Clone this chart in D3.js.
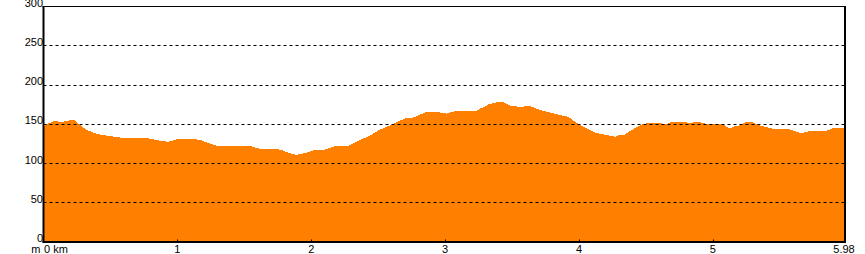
<!DOCTYPE html>
<html>
<head>
<meta charset="utf-8">
<script src="https://cdn.jsdelivr.net/npm/d3@7"></script>
<style>
  body { margin: 0; background: #fff; }
  text { font-family: "Liberation Sans", Arial, sans-serif; font-size: 11px; fill: #000; }
</style>
</head>
<body>
<div id="chart-area"></div>
<script>
const width = 865, height = 254;
const margin = {top: 6, right: 21, bottom: 12.5, left: 43.5};

// distance along the route (km) and elevation (m)
const dist = [0.00, 0.02, 0.09, 0.12, 0.16, 0.21, 0.24, 0.27, 0.31, 0.35, 0.40, 0.43, 0.48, 0.55, 0.62, 0.65, 0.77, 0.82, 0.87, 0.93, 0.97,
  1.01, 1.09, 1.17, 1.22, 1.27, 1.32, 1.37, 1.54, 1.58, 1.62, 1.71, 1.78, 1.80, 1.85, 1.89, 1.92, 1.97,
  2.03, 2.10, 2.15, 2.18, 2.28, 2.31, 2.36, 2.41, 2.46, 2.51, 2.56, 2.61, 2.66, 2.71, 2.77, 2.81, 2.86, 2.94,
  3.01, 3.07, 3.15, 3.20, 3.24, 3.26, 3.30, 3.33, 3.37, 3.41, 3.45, 3.48, 3.53, 3.57, 3.62, 3.66, 3.71, 3.77, 3.82, 3.87, 3.92, 3.94, 3.98,
  4.02, 4.07, 4.12, 4.17, 4.22, 4.27, 4.31, 4.33, 4.37, 4.42, 4.48, 4.53, 4.59, 4.66, 4.69, 4.78, 4.83, 4.89, 4.93, 4.96,
  5.08, 5.10, 5.13, 5.16, 5.20, 5.25, 5.29, 5.33, 5.36, 5.40, 5.45, 5.55, 5.59, 5.64, 5.67, 5.72, 5.77, 5.85, 5.90, 5.96, 5.98];
const elev = [146.5, 149.6, 153.8, 152, 153, 155, 153.8, 148.7, 143.6, 140.2, 137.2, 136, 134.7, 133, 131.3, 132.1, 132.1, 130, 128.3, 127, 128.7,
  130.9, 130.9, 129.6, 126.1, 123.2, 121, 121.9, 121.9, 119.8, 118, 118, 116.8, 114.7, 112.1, 110.4, 111.3, 113.4,
  116.8, 116.8, 119.8, 121.9, 121.9, 124.9, 129.2, 132.5, 137.2, 142.3, 145.8, 149.6, 153.8, 157.3, 158.1, 161.5, 164.9, 164.9,
  163, 165.7, 166.6, 165.7, 167, 169.2, 172.1, 175.1, 176.4, 178.5, 176.4, 173.4, 172.1, 170.8, 173.4, 170.8, 167.5, 164.9, 162.8, 160.6, 158.9, 156.4, 151.7,
  147.5, 143.2, 138.9, 136.9, 135.1, 133.4, 136, 135.1, 139.4, 144.5, 149.6, 151.3, 150.9, 149.6, 152.6, 152.6, 150.9, 152.6, 150.9, 149.6,
  149.6, 145.8, 144.5, 146.6, 147.8, 152.6, 152.1, 149.6, 147.5, 145.8, 143.6, 143.6, 142, 138.9, 138.1, 140.7, 141.1, 141.1, 144.5, 145, 145];

const yTicks = [0, 50, 100, 150, 200, 250, 300];
const xTicks = [1, 2, 3, 4, 5];
const xMax = 5.98;

const svg = d3.select("#chart-area").append("svg")
    .attr("width", width)
    .attr("height", height);

const x = d3.scaleLinear().domain([0, xMax]).range([margin.left, width - margin.right]);
const y = d3.scaleLinear().domain([0, 300]).range([height - margin.bottom, margin.top]);

const data = dist.map((d, i) => ({d: d, e: elev[i]}));

// profile
svg.append("path")
    .datum(data)
    .attr("fill", "#ff8000")
    .attr("shape-rendering", "crispEdges")
    .attr("d", d3.area().x(p => x(p.d)).y0(y(0)).y1(p => y(p.e)));

// dashed grid
svg.append("g")
    .selectAll("line")
    .data(yTicks.filter(t => t > 0 && t < 300))
    .enter().append("line")
    .attr("x1", x(0)).attr("x2", x(xMax))
    .attr("y1", t => Math.round(y(t)) + 0.5).attr("y2", t => Math.round(y(t)) + 0.5)
    .attr("stroke", "#000")
    .attr("stroke-dasharray", "3,3");

// frame
svg.append("line").attr("x1", x(0) - 1).attr("x2", x(xMax) + 1.5)
    .attr("y1", margin.top + 0.5).attr("y2", margin.top + 0.5).attr("stroke", "#000");
svg.append("line").attr("x1", x(0)).attr("x2", x(0))
    .attr("y1", margin.top).attr("y2", y(0) + 1).attr("stroke", "#000").attr("stroke-width", 2);
svg.append("line").attr("x1", x(xMax) + 1).attr("x2", x(xMax) + 1)
    .attr("y1", margin.top).attr("y2", y(0) + 1).attr("stroke", "#000").attr("stroke-width", 2);
svg.append("line").attr("x1", x(0) - 1).attr("x2", x(xMax) + 2)
    .attr("y1", y(0) + 0.5).attr("y2", y(0) + 0.5).attr("stroke", "#000").attr("stroke-width", 2);

// y labels
svg.append("g")
    .selectAll("text")
    .data(yTicks)
    .enter().append("text")
    .attr("x", x(0) - 0.5)
    .attr("y", t => y(t) + 0.5)
    .attr("text-anchor", "end")
    .text(t => t);

// x ticks and labels
svg.append("g")
    .selectAll("line")
    .data(xTicks)
    .enter().append("line")
    .attr("x1", t => Math.round(x(t)) + 0.5).attr("x2", t => Math.round(x(t)) + 0.5)
    .attr("y1", y(0) - 2).attr("y2", y(0))
    .attr("stroke", "#000");

svg.append("g")
    .selectAll("text")
    .data(xTicks.concat([xMax]))
    .enter().append("text")
    .attr("x", t => x(t))
    .attr("y", 253)
    .attr("text-anchor", "middle")
    .text(t => t);

svg.append("text").attr("x", x(0) + 0.5).attr("y", 253).text("0 km");
svg.append("text").attr("x", x(0) - 3).attr("y", 253).attr("text-anchor", "end").text("m");
</script>
</body>
</html>
